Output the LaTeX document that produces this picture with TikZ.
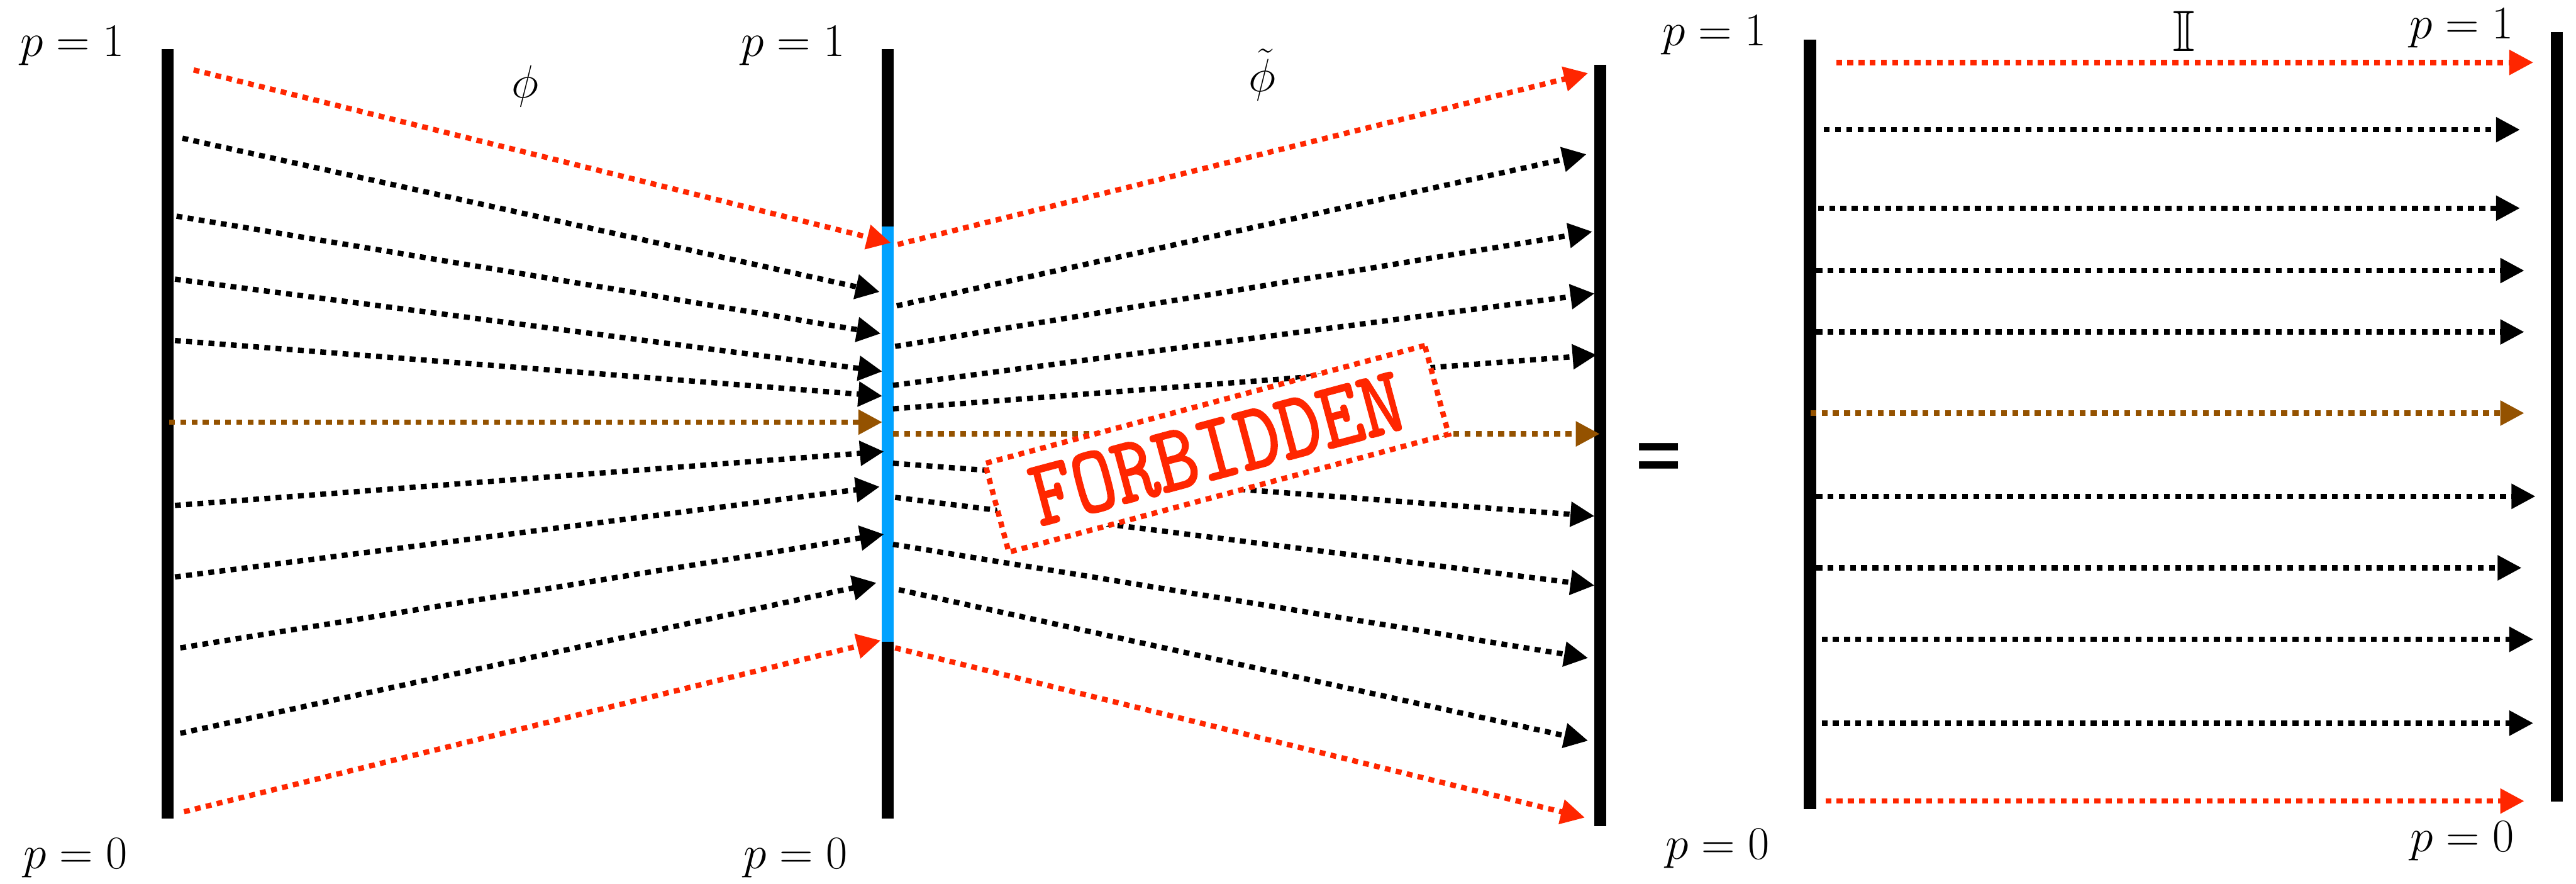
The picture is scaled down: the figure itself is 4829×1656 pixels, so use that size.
\documentclass[tikz,border=0pt]{standalone}
\usepackage{fontspec}
\usepackage{amssymb}
\usepackage{graphicx}
\usetikzlibrary{arrows.meta}
\newfontfamily\sansf{Liberation Sans}
\newfontfamily\typew[FakeBold=2]{Latin Modern Mono}
\definecolor{kred}{HTML}{FF2600}
\definecolor{kbrown}{HTML}{945200}
\definecolor{kblue}{HTML}{00A2FF}
\begin{document}
\begin{tikzpicture}[x=0.01cm,y=-0.01cm,
  bar/.style={line width=0.23cm},
  flow/.style={line width=0.1cm, dash pattern=on 0.11cm off 0.1cm,
    -{Triangle[length=0.45cm,width=0.45cm]}},
  lbl/.style={font=\fontsize{27}{30}\selectfont, inner sep=0pt, anchor=base},
  sym/.style={font=\fontsize{31}{34}\selectfont, inner sep=0pt},
]
\useasboundingbox (0,0) rectangle (4829,1656);

% bars
\coordinate (L1) at (314,92);   \coordinate (L0) at (314,1534);
\coordinate (M1) at (1664,92);  \coordinate (M0) at (1664,1534);
\coordinate (Mb1) at (1664,424); \coordinate (Mb0) at (1664,1203);
\coordinate (N1) at (3000,121); \coordinate (N0) at (3000,1548);
\coordinate (R1) at (3393,74);  \coordinate (R0) at (3393,1516);
\coordinate (S1) at (4793,60);  \coordinate (S0) at (4793,1502);
\draw[bar] (L1) -- (L0);
\draw[bar] (M1) -- (M0);
\draw[bar,kblue] (Mb1) -- (Mb0);
\draw[bar] (N1) -- (N0);
\draw[bar] (R1) -- (R0);
\draw[bar] (S1) -- (S0);

% left panel arrows
\foreach \n/\xa/\ya/\xb/\yb/\c in {
  a1/363/131/1670/455/kred, a2/342/259/1649/547/black, a3/331/405/1651/625/black,
  a4/328/523/1654/696/black, a5/328/638/1654/742/black, a6/317/791/1654/791/kbrown,
  a7/328/947/1657/846/black, a8/328/1081/1649/912/black, a9/338/1214/1657/1001/black,
  a10/338/1374/1643/1092/black, a11/345/1521/1651/1200/kred}{
  \coordinate (s\n) at (\xa,\ya); \coordinate (e\n) at (\xb,\yb);
  \draw[flow,\c] (s\n) -- (e\n);
}
% middle panel arrows
\foreach \n/\xa/\ya/\xb/\yb/\c in {
  b1/1683/458/2977/137/kred, b2/1681/573/2974/289/black, b3/1678/649/2985/434/black,
  b4/1674/722/2989/550/black, b5/1674/766/2993/665/black, b6/1674/813/2999/813/kbrown,
  b7/1674/868/2989/967/black, b8/1678/932/2989/1097/black, b9/1674/1020/2977/1233/black,
  b10/1685/1105/2977/1388/black, b11/1678/1214/2971/1532/kred}{
  \coordinate (s\n) at (\xa,\ya); \coordinate (e\n) at (\xb,\yb);
  \draw[flow,\c] (s\n) -- (e\n);
}
% right panel arrows
\foreach \n/\xa/\ya/\xb/\yb/\c in {
  c1/3442/117/4749/117/kred, c2/3419/243/4724/243/black, c3/3408/390/4724/390/black,
  c4/3405/507/4732/507/black, c5/3405/622/4732/622/black, c6/3394/774/4732/774/kbrown,
  c7/3405/930/4753/930/black, c8/3405/1064/4727/1064/black, c9/3415/1198/4749/1198/black,
  c10/3415/1355/4749/1355/black, c11/3422/1501/4732/1501/kred}{
  \coordinate (s\n) at (\xa,\ya); \coordinate (e\n) at (\xb,\yb);
  \draw[flow,\c] (s\n) -- (e\n);
}

% FORBIDDEN stamp
\node[draw=kred, fill=white, line width=0.1cm, dash pattern=on 0.11cm off 0.1cm,
  rotate=15, minimum width=8.53cm, minimum height=1.72cm, inner sep=0pt,
  text=kred, font=\typew\fontsize{44}{44}\selectfont]
  (forb) at (2281,841) {\scalebox{1}[1.15]{FORBIDDEN}};

% labels
\node[lbl] (pa1) at (136,105) {$p=1$};
\node[lbl] (pb1) at (1487,105) {$p=1$};
\node[lbl] (pa0) at (141,1628) {$p=0$};
\node[lbl] (pb0) at (1491,1628) {$p=0$};
\node[lbl] (pc1) at (3214,86) {$p=1$};
\node[lbl] (pd1) at (4614,72) {$p=1$};
\node[lbl] (pc0) at (3220,1610) {$p=0$};
\node[lbl] (pd0) at (4616,1596) {$p=0$};
\node[sym] (phi) at (984,162) {$\phi$};
\node[sym] (phit) at (2366,140) {$\tilde{\phi}$};
\node[sym] (id) at (4094,59) {$\mathbb{I}$};
\node[inner sep=0pt, font=\sansf\bfseries\fontsize{36}{36}\selectfont] (eq) at (3110,864) {\scalebox{1.15}[1]{=}};
\end{tikzpicture}
\end{document}
